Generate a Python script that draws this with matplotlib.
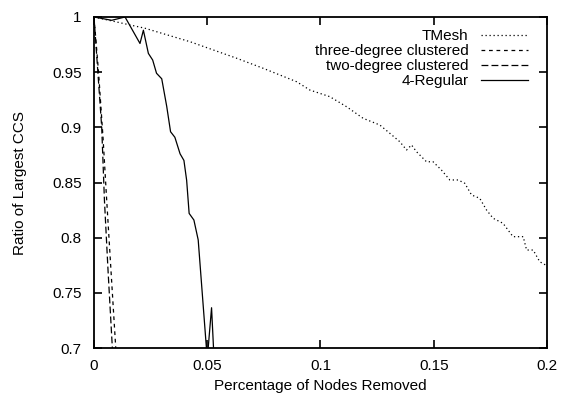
import matplotlib
matplotlib.use('Agg')
import matplotlib.pyplot as plt

plt.rcParams['font.family'] = ['Liberation Sans', 'DejaVu Sans']

# TMesh
tmesh_x = [0, 0.0225, 0.0424, 0.0630, 0.0747, 0.0821, 0.0895, 0.0953, 0.0997, 0.1041,
           0.1115, 0.1188, 0.1262, 0.1306, 0.1350, 0.1380, 0.1402, 0.1424, 0.1468, 0.1497,
           0.1534, 0.1571, 0.1608, 0.1637, 0.1667, 0.1703, 0.1733, 0.1762, 0.1806, 0.1850,
           0.1895, 0.1910, 0.1939, 0.1968, 0.2000]
tmesh_y = [1.0, 0.9898, 0.9776, 0.9626, 0.9535, 0.9474, 0.9413, 0.9338, 0.9308, 0.9278,
           0.9187, 0.9082, 0.9021, 0.8946, 0.8870, 0.8795, 0.8840, 0.8779, 0.8688, 0.8688,
           0.8613, 0.8523, 0.8523, 0.8493, 0.8387, 0.8357, 0.8251, 0.8176, 0.8130, 0.8009,
           0.8009, 0.7888, 0.7888, 0.7782, 0.7745]

# three-degree clustered
three_x = [0, 0.002, 0.004, 0.0056, 0.0075, 0.0096, 0.0100]
three_y = [1.0, 0.95, 0.89, 0.834, 0.77, 0.70, 0.69]

# two-degree clustered
two_x = [0, 0.0017, 0.0034, 0.0046, 0.0062, 0.0081, 0.0085]
two_y = [1.0, 0.95, 0.90, 0.834, 0.77, 0.70, 0.69]

# 4-Regular
reg_x = [0, 0.0078, 0.0137, 0.0159, 0.0203, 0.0218, 0.0240, 0.0259, 0.0276, 0.0299,
         0.0321, 0.0338, 0.0357, 0.0380, 0.0397, 0.0409, 0.0420, 0.0441, 0.0460, 0.0500,
         0.0519, 0.0530]
reg_y = [1.0, 0.997, 1.0, 0.992, 0.976, 0.988, 0.967, 0.961, 0.949, 0.944,
         0.919, 0.896, 0.891, 0.876, 0.870, 0.852, 0.822, 0.816, 0.798, 0.69,
         0.7365, 0.69]

xticks = [0, 0.05, 0.1, 0.15, 0.2]
xtick_labels = ['0', '0.05', '0.1', '0.15', '0.2']
yticks = [0.7, 0.75, 0.8, 0.85, 0.9, 0.95, 1.0]
ytick_labels = ['0.7', '0.75', '0.8', '0.85', '0.9', '0.95', '1']

fig = plt.figure(figsize=(5.66, 3.97), dpi=100)
ax = fig.add_axes([0.1661, 0.1234, 0.8003, 0.8338])

ax.plot(tmesh_x, tmesh_y, color='black', lw=0.9, dashes=(1, 2.2), label='TMesh')
ax.plot(three_x, three_y, color='black', lw=0.9, dashes=(3, 3), label='three-degree clustered')
ax.plot(two_x, two_y, color='black', lw=0.9, dashes=(5.5, 2.5), label='two-degree clustered')
ax.plot(reg_x, reg_y, color='black', lw=0.9, label='4-Regular')

ax.set_xlim(0, 0.2)
ax.set_ylim(0.7, 1.0)
ax.set_xticks(xticks)
ax.set_xticklabels(xtick_labels)
ax.set_yticks(yticks)
ax.set_yticklabels(ytick_labels)
ax.tick_params(direction='in', length=6, width=1.2, top=True, right=True, labelsize=11)
ax.tick_params(axis='x', pad=8)
ax.tick_params(axis='y', pad=9)
for s in ax.spines.values():
    s.set_linewidth(1.3)

ax.set_xlabel('Percentage of Nodes Removed', fontsize=11, labelpad=4)
ax.set_ylabel('Ratio of Largest CCS', fontsize=11, labelpad=18)

leg = ax.legend(loc='upper right', bbox_to_anchor=(0.985, 1.0), frameon=False,
                markerfirst=False, fontsize=11, handlelength=3.1, labelspacing=0.07,
                borderaxespad=0.4, handletextpad=0.8)

plt.savefig('out.png', dpi=100)
